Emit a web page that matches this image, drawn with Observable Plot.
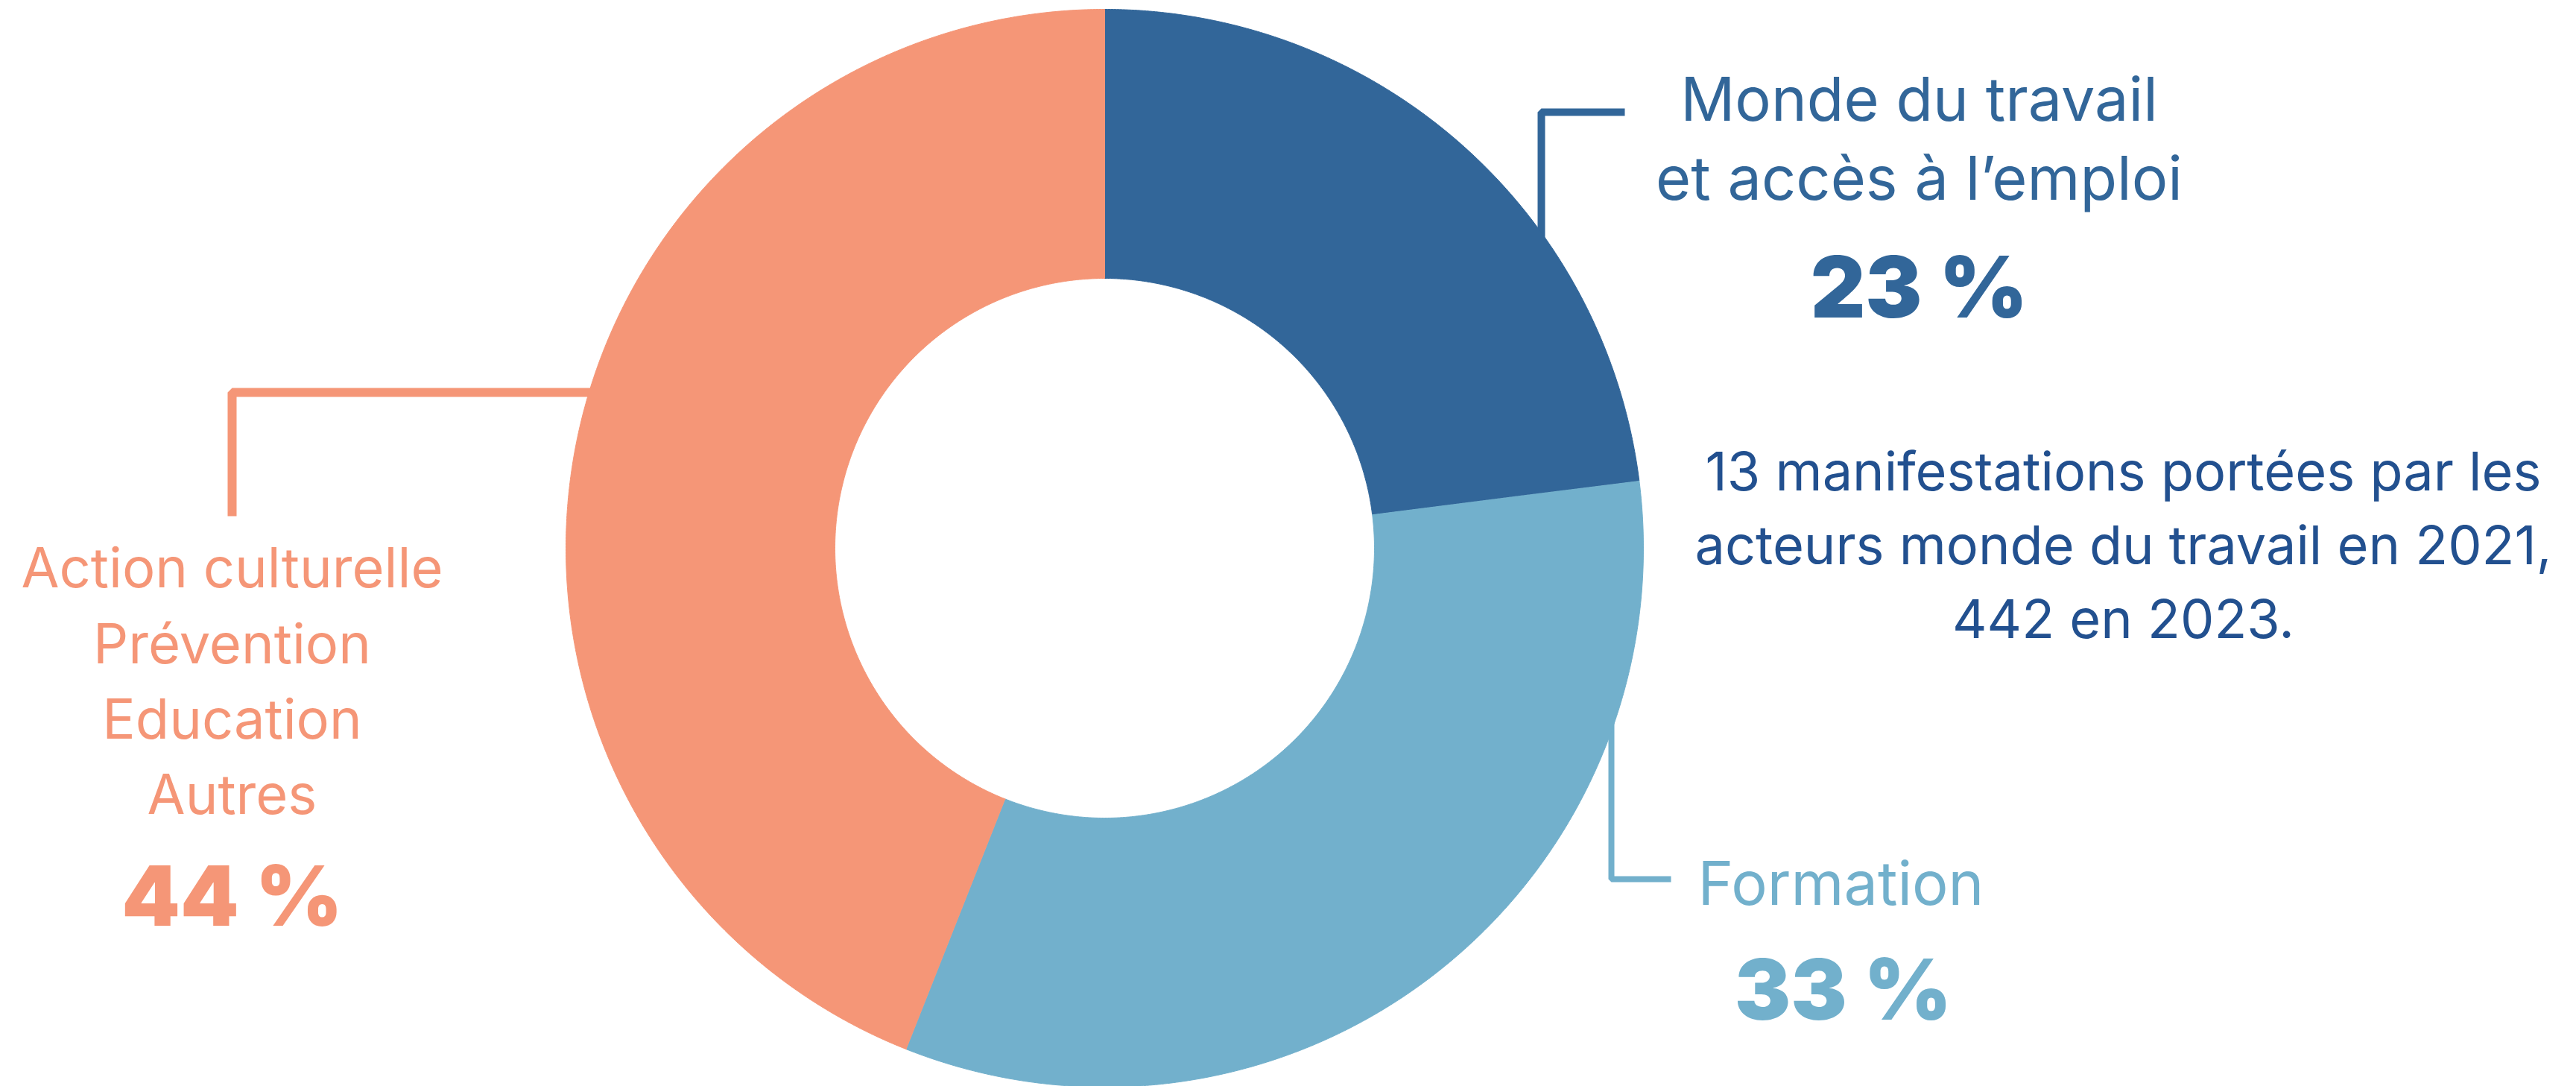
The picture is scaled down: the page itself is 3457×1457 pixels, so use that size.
<!DOCTYPE html>
<html><head><meta charset="utf-8">
<script src="https://cdn.jsdelivr.net/npm/d3@7"></script>
<script src="https://cdn.jsdelivr.net/npm/@observablehq/plot@0.6"></script>
<style>html,body{margin:0;padding:0;background:#fff;overflow:hidden}#chart svg{display:block}</style>
</head><body><div id="chart"></div>
<script>
// ---- data ----
const categories = ["Monde du travail et accès à l’emploi", "Formation", "Action culturelle / Prévention / Education / Autres"];
const values = [23, 33, 44];
const percentLabels = ["23 %", "33 %", "44 %"];
const labelLines = [["Monde du travail", "et accès à l’emploi"], ["Formation"], ["Action culturelle", "Prévention", "Education", "Autres"]];
const noteLines = ["13 manifestations portées par les", "acteurs monde du travail en 2021,", "442 en 2023."];
const colors = ["#326699", "#72b0cc", "#f59677"];
const noteColor = "#22508f";

// ---- layout ----
const W = 3457, H = 1457;
const cx = 1482, cy = 735, R = 723, r = 362;
const font = "Inter, 'Noto Sans', sans-serif";

// pie geometry from data
const pie = d3.pie().sort(null).value(d => d)(values);
const polar = (a, rad) => ({x: cx + rad * Math.sin(a), y: cy - rad * Math.cos(a)});
const slices = pie.map((p, i) => {
  const n = Math.max(8, Math.ceil((p.endAngle - p.startAngle) * 180));
  const pts = [];
  for (let k = 0; k <= n; k++) pts.push(polar(p.startAngle + (p.endAngle - p.startAngle) * k / n, R));
  for (let k = n; k >= 0; k--) pts.push(polar(p.startAngle + (p.endAngle - p.startAngle) * k / n, r));
  return {cat: categories[i], color: colors[i], pts};
});

// annotation layout (pixel positions)
const leaders = [
  {color: colors[0], w: 10, pts: [{x: 2180, y: 150}, {x: 2068, y: 150}, {x: 2068, y: 330}]},
  {color: colors[1], w: 8, pts: [{x: 2162, y: 960}, {x: 2162, y: 1179}, {x: 2242, y: 1179}]},
  {color: colors[2], w: 12, pts: [{x: 311, y: 692}, {x: 311, y: 526}, {x: 800, y: 526}]}
];
const labelPos = [
  {x: 2575, ys: [161, 267], size: 81, pctY: 425, pctSize: 114},
  {x: 2470, ys: [1213], size: 81, pctY: 1367, pctX: 2473, pctSize: 113},
  {x: 311, ys: [787, 889, 990, 1091], size: 74, pctY: 1241, pctSize: 112}
];
const notePos = {x: 2849, ys: [657, 756, 855], size: 72};

const textRows = [];
labelLines.forEach((lines, i) => lines.forEach((t, j) => textRows.push({t, x: labelPos[i].x, y: labelPos[i].ys[j], size: labelPos[i].size, color: colors[i], weight: 400})));
percentLabels.forEach((t, i) => textRows.push({t, x: labelPos[i].pctX ?? labelPos[i].x, y: labelPos[i].pctY, size: labelPos[i].pctSize, color: colors[i], weight: 900}));
noteLines.forEach((t, j) => textRows.push({t, x: notePos.x, y: notePos.ys[j], size: notePos.size, color: noteColor, weight: 400}));

const marks = [];
leaders.forEach(l => marks.push(Plot.line(l.pts, {x: "x", y: "y", stroke: l.color, strokeWidth: l.w, strokeLinecap: "butt", strokeLinejoin: "miter"})));
slices.forEach(s => marks.push(Plot.line(s.pts, {x: "x", y: "y", fill: s.color, stroke: s.color, strokeWidth: 1, curve: "linear"})));
const sizes = [...new Set(textRows.map(d => d.size + "|" + d.weight))];
sizes.forEach(key => {
  const rows = textRows.filter(d => d.size + "|" + d.weight === key);
  marks.push(Plot.text(rows, {x: "x", y: "y", text: "t", fill: d => d.color, fontSize: rows[0].size, fontWeight: rows[0].weight, fontFamily: font, textAnchor: "middle", lineAnchor: "bottom"}));
});

const chart = Plot.plot({
  width: W, height: H, margin: 0,
  x: {type: "identity", axis: null}, y: {type: "identity", axis: null},
  color: {type: "identity"},
  style: {background: "#fff", fontFamily: font, overflow: "visible"},
  marks
});
document.getElementById("chart").append(chart);
</script>
</body></html>
